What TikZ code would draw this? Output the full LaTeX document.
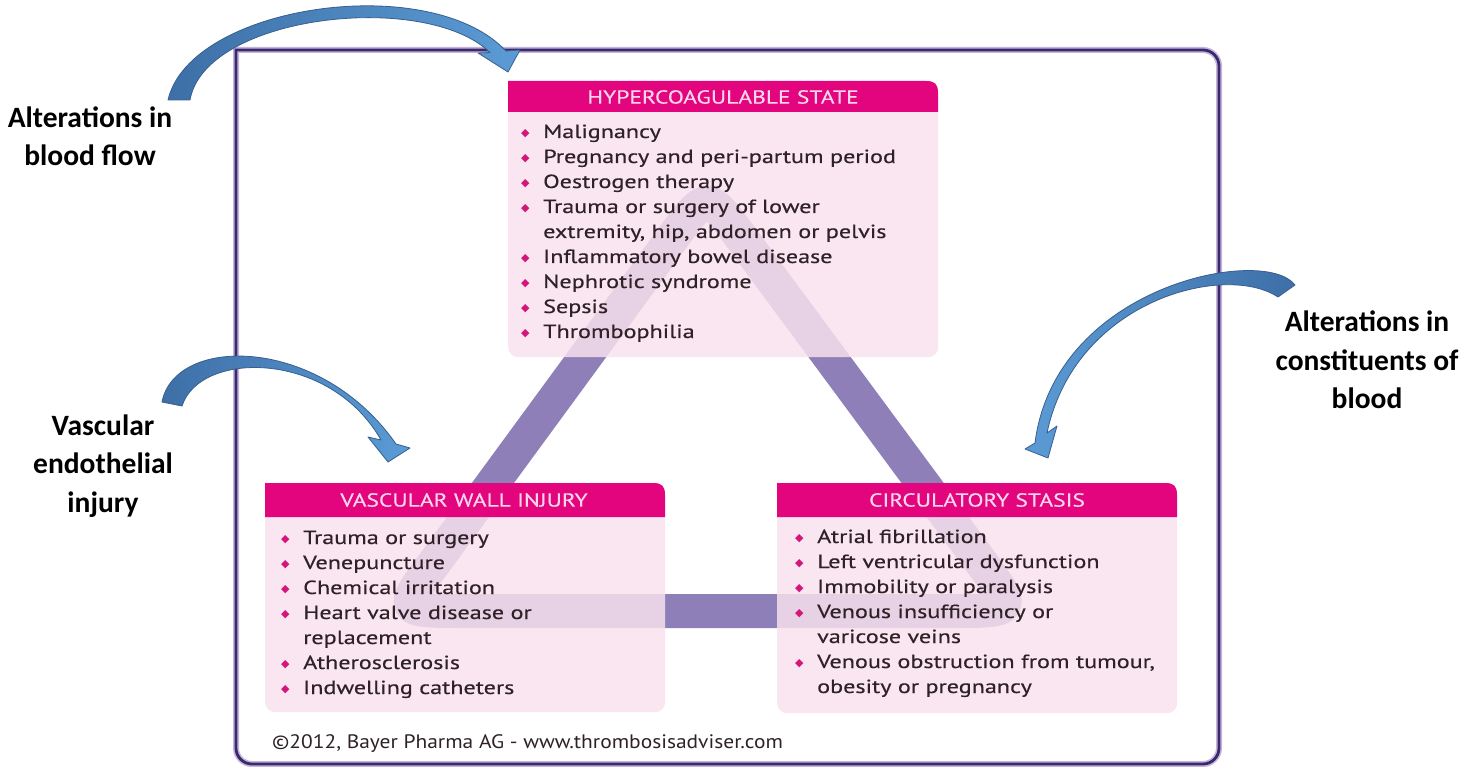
\documentclass[tikz,border=0pt]{standalone}
\usepackage{fontspec}
\setmainfont{PT Sans}
\newfontfamily\boxfont{PT Sans}[FakeStretch=1.27,FakeBold=0.4]
\newfontfamily\hdrfont{PT Sans}[FakeStretch=1.25,FakeBold=0.3]
\newfontfamily\creditfont{PT Sans}[FakeStretch=1.1]
\newfontfamily\lblfont{Carlito}
\newfontfamily\symfont{DejaVu Sans}
\definecolor{framedark}{HTML}{3B2A6B}
\definecolor{framehalo}{HTML}{C4B4DC}
\definecolor{bandpurple}{HTML}{8F7FB8}
\definecolor{bodypink}{HTML}{FAE2ED}
\definecolor{hdrmag}{HTML}{E2057E}
\definecolor{hdrtext}{HTML}{FBD6EA}
\definecolor{itemtext}{HTML}{2E2127}
\definecolor{bulmag}{HTML}{D4157A}
\definecolor{arrowdark}{HTML}{3E6FA7}
\definecolor{arrowlight}{HTML}{5B9BD5}
\definecolor{arrowedge}{HTML}{385F8F}
% bullet and continuation indent for the risk-factor lists
\newcommand\bx{\makebox[22pt][l]{\raisebox{1.5pt}{\textcolor{bulmag}{\symfont\fontsize{11}{11}\selectfont ◆}}}}
\newcommand\cx{\hspace*{22pt}}
\newcommand\itemlist[1]{\parbox[t]{440pt}{\boxfont\fontsize{19}{25}\selectfont#1}}
\begin{document}
\begin{tikzpicture}[x=1pt,y=-1pt,
  bodybox/.style={fill=bodypink,fill opacity=0.83,rounded corners=10pt},
  hdrbox/.style={fill=hdrmag},
  hdrlabel/.style={text=hdrtext,font=\hdrfont\fontsize{18.8}{20}\selectfont,inner sep=0pt},
  listnode/.style={anchor=base west,inner sep=0pt,text=itemtext},
  sidelabel/.style={font=\lblfont\bfseries\fontsize{29.5}{38.5}\selectfont,align=center,text=black,inner sep=0pt},
  bluearrow/.style={draw=arrowedge,line width=0.8pt,line join=round},
  bandline/.style={draw=bandpurple,line width=34pt,line join=round}
]
\useasboundingbox (0,0) rectangle (1478,767);
\fill[white] (0,0) rectangle (1478,767);

% outer frame
\draw[framehalo,line width=6pt,rounded corners=16pt,line cap=rect]
  (236,50) -- (1219,50) -- (1219,764) -- (236,764) -- (236,50);
\draw[framedark,line width=2.8pt,rounded corners=16pt,line cap=rect]
  (236,50) -- (1219,50) -- (1219,764) -- (236,764) -- (236,50);

% triad band linking the three boxes
\draw[bandline] (707,611) -- (952,611) .. controls (1017,611) .. (978.5,558.6)
  -- (742.6,239.4) .. controls (707,191) .. (671.4,239.4)
  -- (437.5,558.6) .. controls (398,611) .. (463,611) -- cycle;

% box bodies
\node[bodybox,anchor=north west,minimum width=430pt,minimum height=257pt,inner sep=0pt] (hyperBody) at (508,100) {};
\node[bodybox,anchor=north west,minimum width=400pt,minimum height=212pt,inner sep=0pt] (wallBody) at (265,500) {};
\node[bodybox,anchor=north west,minimum width=400pt,minimum height=213pt,inner sep=0pt] (stasisBody) at (777,500) {};

% headers: square top-left, rounded top-right
\fill[hdrbox] (508,112) -- (508,81) -- (926,81) .. controls (935,81) and (938,84) .. (938,93) -- (938,112) -- cycle;
\fill[hdrbox] (265,517) -- (265,483) -- (653,483) .. controls (662,483) and (665,486) .. (665,495) -- (665,517) -- cycle;
\fill[hdrbox] (777,517) -- (777,483) -- (1165,483) .. controls (1174,483) and (1177,486) .. (1177,495) -- (1177,517) -- cycle;

\node[hdrlabel] (hyperHead) at (723,97) {HYPERCOAGULABLE STATE};
\node[hdrlabel] (wallHead) at (464,500) {VASCULAR WALL INJURY};
\node[hdrlabel] (stasisHead) at (977,500) {CIRCULATORY STASIS};

% risk-factor lists
\node[listnode] (hyperList) at (521,138) {\itemlist{%
\bx Malignancy\\
\bx Pregnancy and peri-partum period\\
\bx Oestrogen therapy\\
\bx Trauma or surgery of lower\\
\cx extremity, hip, abdomen or pelvis\\
\bx Inflammatory bowel disease\\
\bx Nephrotic syndrome\\
\bx Sepsis\\
\bx Thrombophilia}};

\node[listnode] (wallList) at (281,544) {\itemlist{%
\bx Trauma or surgery\\
\bx Venepuncture\\
\bx Chemical irritation\\
\bx Heart valve disease or\\
\cx replacement\\
\bx Atherosclerosis\\
\bx Indwelling catheters}};

\node[listnode] (stasisList) at (795,543) {\itemlist{%
\bx Atrial fibrillation\\
\bx Left ventricular dysfunction\\
\bx Immobility or paralysis\\
\bx Venous insufficiency or\\
\cx varicose veins\\
\bx Venous obstruction from tumour,\\
\cx obesity or pregnancy}};

% credit line
\node[anchor=base west,inner sep=0pt,text=itemtext,font=\creditfont\fontsize{19.5}{21}\selectfont] (credit) at (272,748)
  {©2012, Bayer Pharma AG - www.thrombosisadviser.com};

% side labels
\node[sidelabel] (lblFlow) at (90,136) {Alterations in\\blood flow};
\node[sidelabel] (lblWall) at (103,466) {Vascular\\endothelial\\injury};
\node[sidelabel] (lblBlood) at (1367,360) {Alterations in\\constituents of\\blood};

% curved block arrows
\path[bluearrow,left color=arrowdark,right color=arrowlight]
  (168,100) .. controls (190,5) and (430,-30) .. (506,51)
  -- (520,50) -- (508,72) -- (478,53) -- (490,52.5)
  .. controls (425,-10) and (205,15) .. (190,100) -- cycle;

\path[bluearrow,left color=arrowdark,right color=arrowlight]
  (162,402) .. controls (175,335) and (320,335) .. (396,444)
  -- (410,448) -- (388,462) -- (368,437) -- (381,440)
  .. controls (330,350) and (200,350) .. (182,406) -- cycle;

\path[bluearrow,left color=arrowlight,right color=arrowdark]
  (1295,285) .. controls (1265,245) and (1055,285) .. (1035,443)
  -- (1025,449) -- (1048,458) -- (1057,426) -- (1047,433)
  .. controls (1075,300) and (1225,262) .. (1278,297) -- cycle;
\end{tikzpicture}
\end{document}
